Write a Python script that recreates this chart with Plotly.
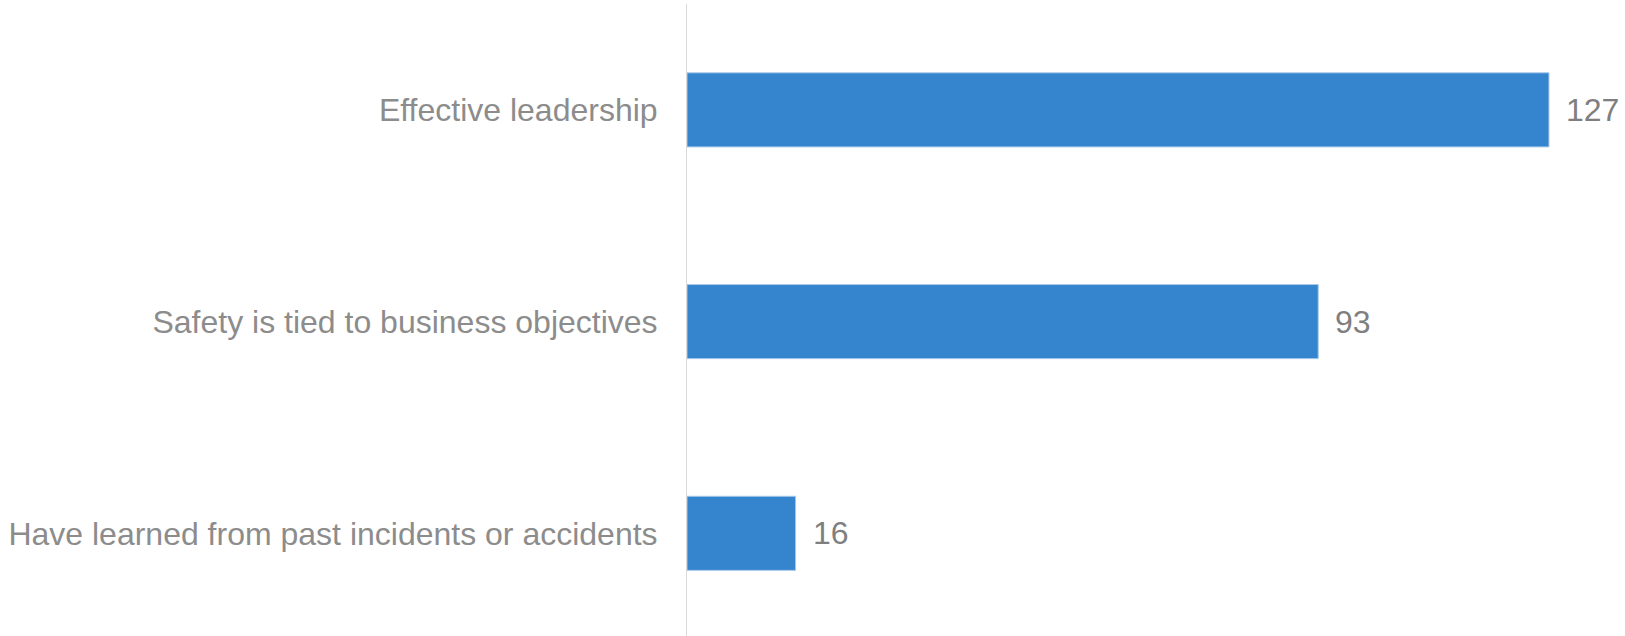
import plotly.graph_objects as go

categories = ["Effective leadership", "Safety is tied to business objectives",
              "Have learned from past incidents or accidents"]
values = [127, 93, 16]

FONT = "Liberation Sans, Arial, sans-serif"

fig = go.Figure()
fig.add_trace(go.Bar(
    x=values, y=categories, orientation="h",
    marker=dict(color="#3584CE", line=dict(color="#A9C9EA", width=1)),
    hoverinfo="skip",
))
for c, v in zip(categories, values):
    fig.add_annotation(x=v, y=c, text=str(v), showarrow=False, xanchor="left",
                       xshift=15, font=dict(family=FONT, size=32, color="#7F7F7F"))

fig.update_layout(
    width=1625, height=636,
    margin=dict(l=687, r=0, t=4, b=0),
    paper_bgcolor="white", plot_bgcolor="white",
    bargap=0.65,
    showlegend=False,
    xaxis=dict(range=[0, 138.2], visible=False, fixedrange=True),
    yaxis=dict(range=[2.485, -0.5], showline=True, linecolor="#D9D9D9", linewidth=1,
               showgrid=False, ticks="", ticklabelstandoff=22, fixedrange=True,
               tickfont=dict(family=FONT, size=32, color="#8C8C8C")),
)
fig.write_html("out.html", config={"displayModeBar": False},
               post_script="document.body.style.margin='0';document.body.style.overflow='hidden';")
